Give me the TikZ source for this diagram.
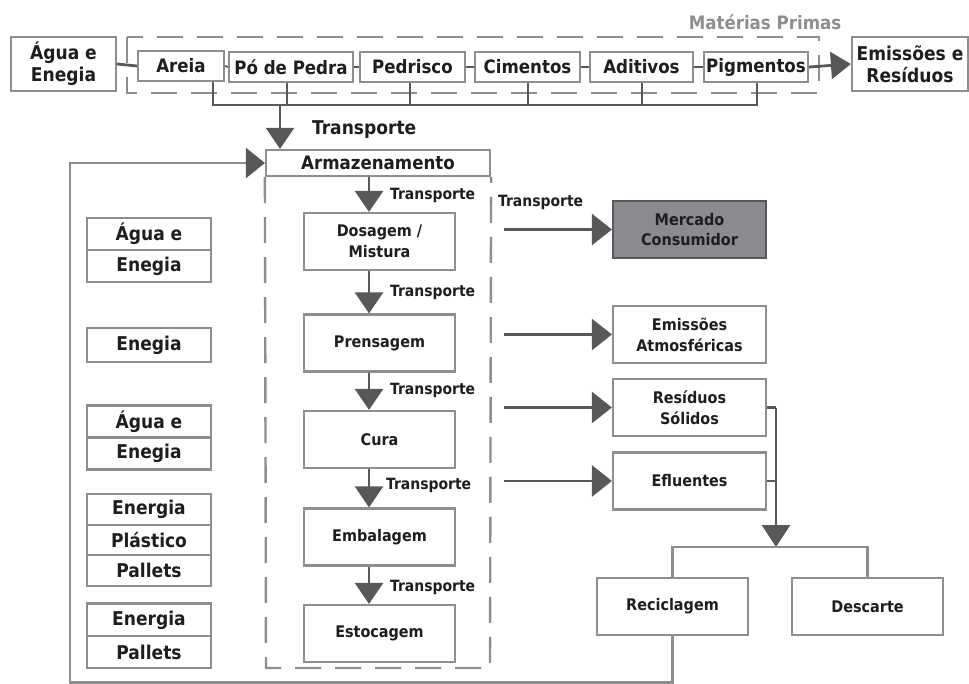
\documentclass[tikz,border=0pt]{standalone}
\usepackage{fontspec}
\setmainfont{DejaVu Sans Condensed}[BoldFont={DejaVu Sans Condensed Bold}]
\usetikzlibrary{arrows.meta}
\definecolor{linedark}{HTML}{58585A}
\definecolor{boxgrey}{HTML}{8E8E8E}
\definecolor{txt}{HTML}{1E1E1E}
\definecolor{mercfill}{HTML}{8B8B8F}
% bold text of a given size, with a roomy line spacing for two-line labels
\newcommand{\fsz}[1]{\fontsize{#1}{1.3\dimexpr#1pt\relax}\selectfont\bfseries}
\tikzset{
  box/.style={draw=boxgrey, line width=2.2pt, fill=white, inner sep=0pt,
    text=txt, align=center, font=\fsz{16}},
  topbox/.style={box, font=\fsz{18.5}, minimum height=30pt},
  procbox/.style={box, minimum width=151pt, minimum height=57pt},
  outbox/.style={box, minimum width=153pt, minimum height=57pt},
  inbox/.style={box, minimum width=124pt, font=\fsz{19}},
  dashbox/.style={draw=boxgrey, line width=2.4pt, dash pattern=on 26pt off 14pt},
  conn/.style={draw=linedark, line width=2.8pt},
  thin/.style={draw=linedark, line width=1.8pt},
  greyline/.style={draw=boxgrey, line width=2.4pt},
  arrow/.style={conn, -{Triangle[length=21pt, width=28pt]}},
  bigarrow/.style={conn, -{Triangle[length=20pt, width=31pt]}},
  tip/.style={draw=none, -{Triangle[length=20pt, width=28pt, color=linedark]}},
  label/.style={text=txt, font=\fsz{15.5}, inner sep=0pt, anchor=west},
}
\begin{document}
\begin{tikzpicture}[x=1pt, y=-1pt]
\useasboundingbox (0,0) rectangle (969,684);

% ---- raw materials row ----
\draw[dashbox] (127,37) rectangle (819,93);
\node[text=boxgrey, font=\fsz{18.5}, inner sep=0pt] (mptitle) at (765,22) {Matérias Primas};
\node[box, font=\fsz{19}, minimum width=105pt, minimum height=54pt] (agua0) at (63.5,64) {Água e\\[-3pt]Enegia};
\node[topbox, minimum width=86pt]  (areia) at (181,66)   {Areia};
\node[topbox, minimum width=124pt] (po)    at (291,67)   {Pó de Pedra};
\node[topbox, minimum width=105pt] (ped)   at (412.5,67) {Pedrisco};
\node[topbox, minimum width=105pt] (cim)   at (527.5,67) {Cimentos};
\node[topbox, minimum width=103pt] (adi)   at (641.5,67) {Aditivos};
\node[topbox, minimum width=104pt] (pig)   at (756,67)   {Pigmentos};
\node[box, font=\fsz{19}, minimum width=116pt, minimum height=54pt] (emis0) at (910,64) {Emissões e\\[-3pt]Resíduos};

\draw[conn] (agua0.east) -- (areia.west);
\draw[thin] (areia.east) -- (po.west);
\draw[thin] (po.east) -- (ped.west);
\draw[thin] (ped.east) -- (cim.west);
\draw[thin] (cim.east) -- (adi.west);
\draw[thin] (adi.east) -- (pig.west);
\draw[conn, -{Triangle[length=20pt, width=27pt]}] (pig.east) -- (emis0.west);

% collector bus under the raw materials
\coordinate (bus) at (280,105);
\draw[conn] (areia.south -| 213,0) -- (213,105) -- (757,105) -- (pig.south -| 757,0);
\draw[conn] (po.south -| 287,0) -- (287,105);
\draw[conn] (ped.south -| 410,0) -- (410,105);
\draw[conn] (cim.south -| 528,0) -- (528,105);
\draw[conn] (adi.south -| 642,0) -- (642,105);

% ---- storage and process column ----
\node[box, font=\fsz{18.5}, minimum width=224pt, minimum height=26pt] (arm) at (378,163) {Armazenamento};
\draw[arrow] (bus) -- (arm.north -| bus);
\node[label, font=\fsz{19}] (tr0) at (312,130) {Transporte};

\draw[dashbox] (arm.south west) -- (266,668) -- (490,668) -- (arm.south east);

\node[procbox] (dos)  at (379.5,241.5) {Dosagem /\\Mistura};
\node[procbox] (pre)  at (379.5,343)   {Prensagem};
\node[procbox] (cura) at (379.5,439.5) {Cura};
\node[procbox] (emb)  at (379.5,537)   {Embalagem};
\node[procbox] (est)  at (379.5,633.5) {Estocagem};

\draw[arrow] (arm.south -| 369,0) -- (dos.north -| 369,0);
\draw[arrow] (dos.south -| 369,0) -- (pre.north -| 369,0);
\draw[arrow] (pre.south -| 369,0) -- (cura.north -| 369,0);
\draw[arrow] (cura.south -| 369,0) -- (emb.north -| 369,0);
\draw[arrow] (emb.south -| 369,0) -- (est.north -| 369,0);

\node[label] (tr1) at (390,195) {Transporte};
\node[label] (tr2) at (390,292) {Transporte};
\node[label] (tr3) at (390,390) {Transporte};
\node[label] (tr4) at (386,485) {Transporte};
\node[label] (tr5) at (390,587) {Transporte};

% inputs to each step
\foreach \n in {dos,pre,cura,emb,est}
  \draw[tip] ([xshift=-20pt]\n.west) -- (\n.west);

\node[inbox, minimum height=32pt] (in1a) at (149,234) {Água e};
\node[inbox, minimum height=32pt] (in1b) at (149,266) {Enegia};
\node[inbox, minimum height=34pt] (in2)  at (149,345) {Enegia};
\node[inbox, minimum height=32pt] (in3a) at (149,421.5) {Água e};
\node[inbox, minimum height=32pt] (in3b) at (149,453.5) {Enegia};
\node[inbox, minimum height=31pt] (in4a) at (149,509.5) {Energia};
\node[inbox, minimum height=30pt] (in4b) at (149,540) {Plástico};
\node[inbox, minimum height=31pt] (in4c) at (149,570.5) {Pallets};
\node[inbox, minimum height=33pt] (in5a) at (149,620) {Energia};
\node[inbox, minimum height=32pt] (in5b) at (149,652) {Pallets};

% ---- outputs ----
\node[outbox, fill=mercfill, draw=linedark] (merc) at (689.5,229.5) {Mercado\\Consumidor};
\node[outbox] (atm)  at (689.5,334.5) {Emissões\\Atmosféricas};
\node[outbox] (res)  at (689.5,407.5) {Resíduos\\Sólidos};
\node[outbox] (eflu) at (689.5,481)   {Efluentes};
\node[label] (trm) at (498,202) {Transporte};

\coordinate (o1) at (504,229.5);
\coordinate (o2) at (504,334.5);
\coordinate (o3) at (504,407.5);
\coordinate (o4) at (504,481);
\draw[bigarrow] (o1) -- (merc.west);
\draw[bigarrow] (o2) -- (atm.west);
\draw[bigarrow] (o3) -- (res.west);
\draw[bigarrow] (o4) -- (eflu.west);

% waste destinations
\node[outbox, minimum width=151pt] (rec)  at (672.5,606.5) {Reciclagem};
\node[outbox, minimum width=151pt] (desc) at (867.5,606.5) {Descarte};

\coordinate (split) at (776,547);
\draw[conn] (res.east) -- (res.east -| split);
\draw[conn] (eflu.east) -- (eflu.east -| split);
\draw[conn, -{Triangle[length=22pt, width=28pt]}] (res.east -| split) -- (split);
\draw[greyline] (rec.north) -- (rec.north |- split) -- (desc.north |- split) -- (desc.north);

% recycling loop back to storage
\coordinate (loopR) at (672.5,682.5);
\coordinate (loopL) at (70,682.5);
\draw[greyline, -{Triangle[length=19pt, width=30pt, color=linedark]}]
  (rec.south) -- (loopR) -- (loopL) -- (loopL |- arm.west) -- (arm.west);
\end{tikzpicture}
\end{document}
